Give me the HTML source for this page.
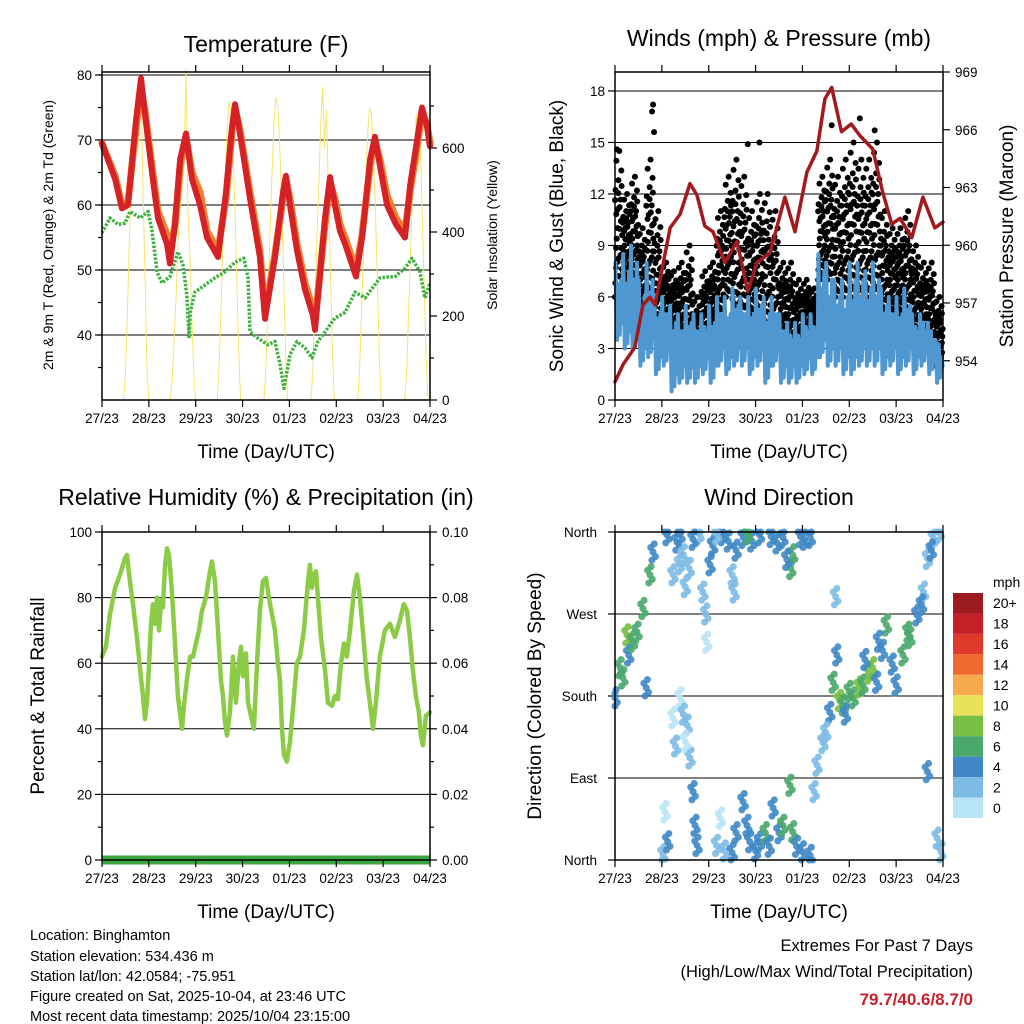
<!DOCTYPE html>
<html><head><meta charset="utf-8"><style>
html,body{margin:0;padding:0;background:#fff;}
svg{display:block;font-family:"Liberation Sans",sans-serif;}
</style></head><body>
<svg id="s" width="1024" height="1024" viewBox="0 0 1024 1024" xmlns="http://www.w3.org/2000/svg">
<g id="static">
<text x="266" y="52" font-size="23" text-anchor="middle">Temperature (F)</text>
<text x="779" y="46" font-size="23" text-anchor="middle">Winds (mph) &amp; Pressure (mb)</text>
<text x="266" y="505" font-size="23" text-anchor="middle">Relative Humidity (%) &amp; Precipitation (in)</text>
<text x="779" y="505" font-size="23" text-anchor="middle">Wind Direction</text>
<text x="266" y="458" font-size="19" text-anchor="middle">Time (Day/UTC)</text>
<text x="779" y="458" font-size="19" text-anchor="middle">Time (Day/UTC)</text>
<text x="266" y="918" font-size="19" text-anchor="middle">Time (Day/UTC)</text>
<text x="779" y="918" font-size="19" text-anchor="middle">Time (Day/UTC)</text>
<text transform="translate(53,235) rotate(-90)" font-size="14" text-anchor="middle">2m &amp; 9m T (Red, Orange) &amp; 2m Td (Green)</text>
<text transform="translate(497,235) rotate(-90)" font-size="14" text-anchor="middle">Solar Insolation (Yellow)</text>
<text transform="translate(563,236) rotate(-90)" font-size="19" text-anchor="middle">Sonic Wind &amp; Gust (Blue, Black)</text>
<text transform="translate(1013,236) rotate(-90)" font-size="19" text-anchor="middle">Station Pressure (Maroon)</text>
<text transform="translate(44,696) rotate(-90)" font-size="19" text-anchor="middle">Percent &amp; Total Rainfall</text>
<text transform="translate(541,696) rotate(-90)" font-size="19" text-anchor="middle">Direction (Colored By Speed)</text>
<g font-size="14.5">
<text x="30" y="940">Location: Binghamton</text>
<text x="30" y="961">Station elevation: 534.436 m</text>
<text x="30" y="981">Station lat/lon: 42.0584; -75.951</text>
<text x="30" y="1001">Figure created on Sat, 2025-10-04, at 23:46 UTC</text>
<text x="30" y="1021">Most recent data timestamp: 2025/10/04 23:15:00</text>
</g>
<text x="973" y="951" font-size="16.5" text-anchor="end">Extremes For Past 7 Days</text>
<text x="973" y="977" font-size="16.5" text-anchor="end">(High/Low/Max Wind/Total Precipitation)</text>
<text x="973" y="1005" font-size="17" font-weight="bold" fill="#c8202a" text-anchor="end">79.7/40.6/8.7/0</text>
<text x="993" y="587" font-size="14">mph</text>
</g>
</svg>
<script>
// ---------- data ----------
const dayLabels=["27/23","28/23","29/23","30/23","01/23","02/23","03/23","04/23"];
const tempTicks=[40,50,60,70,80];
const solarTicks=[0,200,400,600];
const windTicks=[0,3,6,9,12,15,18];
const presTicks=[954,957,960,963,966,969];
const rhTicks=[0,20,40,60,80,100];
const rainTicks=["0.00","0.02","0.04","0.06","0.08","0.10"];
const dirTicks=["North","East","South","West","North"];
const dirTickVals=[0,90,180,270,360];

const tempHours=[0,6.7,10.2,13.3,17.4,20,22,25.6,28.7,33.3,34.8,37.4,40,43,46.1,50.2,53.8,59.4,63.5,66.6,68.1,70.7,75.8,80.9,83.5,88.6,92.7,94.2,96.3,99.9,104,108,109.1,114.2,116.8,119.3,121.9,124.5,130.1,133.2,137.3,139.8,142.4,146,150.6,155.2,157.8,161.9,163.9,166.5,168];
const tempRed=[69.5,64,59.5,60,73,79.5,74,65,58,54,51,57,67,71,64,60,55,52,62,72,75.5,71,61,52,42.5,52,62,64.5,60,53,47,43,40.8,58,64.3,60,56,54,49,55,67,70.5,66,60,57,55,63,71,75,72,69];
const tempOrange=[69.5,64.5,60,60.5,72,78,74.5,66,59,55.5,52.5,57,66,70.5,65,62,56,53,61,71,75,71.5,62,53,43.5,52.5,61,64,61,54,48,44,42,57,63.5,61,57,55,50,55.5,66,70,67,61.5,58,56,62,70,74,72.5,69.5];
const dewHours=[0,4.1,8.2,11.8,14.3,19.5,23.6,25.6,28.2,30.7,34.8,38.9,41.5,43.5,44.6,45.1,47.6,52.8,57.9,63,68.1,72.7,74.8,75.8,79.9,85,88.6,91.2,93.2,96.3,99.9,104,107.6,110.6,114.2,119.3,124.5,129.6,134.7,142.4,150.1,155.2,158.8,162.9,165.4,168];
const dewValues=[55.7,58,57,57.2,59,58,59,56,49.7,48,49,52.8,50.8,46,39.5,43.5,46.6,47.7,48.8,49.7,51.2,51.8,48.8,40.5,39.5,38.5,39,35.4,31.8,37,39,38,36.5,39,40.5,42.6,43.5,46.6,45.7,48.8,49,50.3,51.8,49.7,45.7,48];
const solarHours=[11,12,13,14,15,16,17,18,19,20,21,22,23,24,35,36,37,38,39,40,41,42,43,44,45,46,47,48,59,60,61,62,63,64,65,66,67,68,69,70,71,72,83,84,85,86,87,88,89,90,91,92,93,94,95,96,107,108,109,110,111,112,113,114,115,116,117,118,119,120,131,132,133,134,135,136,137,138,139,140,141,142,143,144,155,156,157,158,159,160,161,162,163,164,165,166,167,168];
const solarValues=[0,60,200,380,520,650,700,740,600,760,500,300,80,0, 0,50,150,250,380,450,500,560,786,450,350,200,60,0, 0,80,220,380,520,640,710,690,600,470,300,120,0,0, 0,80,230,390,530,650,720,700,610,470,300,120,0,0, 0,70,230,380,500,660,745,600,690,480,310,120,0,0, 0,80,220,370,510,630,695,680,590,460,290,110,0,0, 0,60,200,350,480,600,680,560,620,440,280,100,0,0];

const rhHours=[0,2,4.1,6.7,9.2,11.8,12.8,14.3,15.9,17.9,19.5,21,22,23,24.1,25.1,26.1,27.1,28.2,29.2,30.2,31.2,32.3,33.3,34.3,35.8,37.4,38.9,39.9,41,42,43.5,45.1,46.6,48.1,49.7,51.2,53.2,55.3,56.3,57.9,59.4,60.9,62,63,64,65.5,67.1,68.6,70.1,71.2,72.2,73.7,74.8,76.3,77.8,79.4,80.9,82.4,84,85.5,87,88.6,90.1,91.1,92.2,93.2,94.7,96.3,97.8,99.8,101.4,103.4,105.5,106.5,107.5,108.5,109.6,110.6,112.1,114.2,115.7,117.8,119.3,120.8,122.4,123.9,125.4,127,129,130.6,132.1,133.6,135.7,137.2,138.8,140.3,142.3,144.9,147.5,150,152.6,154.6,156.2,157.7,159.2,160.8,162.3,163.3,164.4,165.9,168];
const rhValues=[62,65,75,83,87,92,93,85,78,68,58,50,43,48,60,72,78,72,80,70,79,77,90,95,93,82,66,50,45,40,47,55,62,62,66,70,76,80,88,91,85,70,55,50,42,38,45,62,48,60,65,56,63,48,44,40,60,76,85,86,80,75,70,60,55,40,32,30,36,46,60,62,70,85,90,83,87,88,80,68,58,48,47,50,49,60,66,62,70,82,87,80,70,55,48,40,48,62,70,72,68,73,78,76,68,58,50,45,38,35,44,45];
const rainValues=[0,0];

const windBinHours=4;
const blueLo=[3.5,3,3,2,2.5,1.5,2,0.5,1,1,1,1.5,1,2,1.5,2,2,1.5,2,1,2,1,1,1,1.5,1.5,2.5,2,2,1.5,1.5,2,2,2,1.5,2,1.5,2,1.5,2,1.5,1];
const blueHi=[8,8.5,9,7,8,6,6,5.5,5,5.5,5,5,5.5,6,6,6.5,6,6,6.5,6,6,5,4.5,4.5,5,5,8.5,8,7,7,8,8,7.5,8,6.5,6,6,6.5,5,5,4.5,3.5];
const gustLo=[6,7,7,5,6,4,4,3.5,3.5,3,2,3,4,5,6,5,5,5,5,4,3.5,3.5,3,3,3.5,3.5,7,7,6,6,6,6,6,6,5,5,5,5,4,3.5,3,2];
const gustHi=[14.5,12,13,10,14,11,8,7.5,8,9,6,7.5,8,11,13,14,13,11,12,12,11,8,8,7,7,6.5,13,14,13,14,15,14,14,15,11,10,10,11,9,8,8,6];
const gustPeakHours=[1,19,19.5,20,68,74,111,125.4,133];
const gustPeakValues=[14.6,16.8,17.2,15.6,14.9,15,16,16.4,15.7];
const presHours=[0,4.1,10.2,14.3,17.9,20.5,24.6,28.2,33.3,38.4,42,46,50.2,56.3,62.5,68,72.7,79.4,87,92.2,98.3,103.4,107.5,111,116,121,125.4,132,137,141.8,146,152,157.7,163.8,168];
const presValues=[952.9,953.8,954.7,956.9,957.3,956.9,959,960.9,961.6,963.2,962.6,961,960.7,959.1,960.2,957.6,959.1,959.6,962.5,960.7,963.8,964.9,967.6,968.2,965.9,966.3,965.7,965,962.8,961.1,961.4,960.4,962.5,960.9,961.2];

const dirHours=[0,2.6,6.1,11.3,14.3,17.9,19.5,26.6,31.7,33.3,4,7,9,16,
29.7,36,38,45,47,46.5,48.7,55,60,61,62,65.6,70,74,80,86,91,95,100,50,52,43,40,58,68,83,97,90,88,33,35,
29.7,33.3,35,37,38.4,40,41,42,36,31,
24.6,25.6,27,52,54,56,65.6,67.6,69,72,74,77,79,81,84,86,89.6,91,93,96,100,62,60,
102,103.5,106.5,110,111.7,113.6,113,115,117,120,122,125,127,130,132,134,137,139,142,144,147.5,151,154.6,158,160,163,166,165,167,160,108,118,128,135,150,157,162];
const dirValues=[178,211,247,250,276,313,338,357,349,357,200,225,240,189,
313,300,320,294,239,270,324,357,313,294,340,354,350,357,355,354,335,355,354,345,358,358,352,350,358,348,352,320,330,325,335,
156,178,160,148,112,75,38,16,130,125,
6,53,20,16,46,10,64,38,20,10,20,30,15,57,30,38,82,31,15,9,5,30,8,
75,104,129,162,195,225,289,175,170,185,178,190,192,205,211,195,230,258,215,192,225,244,269,294,331,353,360,24,9,97,140,160,220,240,250,280,340];
const dirSpeeds=[4,6,8,6,6,6,4,4,4,4,6,4,6,4,
2,2,2,2,0,2,4,4,2,2,4,4,4,4,4,4,6,4,4,4,2,2,4,4,6,4,4,6,4,2,2,
0,0,2,2,2,4,4,4,0,2,
2,0,4,2,0,2,4,4,4,4,4,6,4,4,4,6,6,6,4,4,4,4,4,
2,2,2,4,6,4,2,8,6,6,6,8,6,8,8,4,4,6,4,4,6,6,4,2,2,2,2,2,2,4,2,4,4,4,6,4,4];
const cbLabels=["20+","18","16","14","12","10","8","6","4","2","0"];
const cbColors=["#9b1b1e","#c3202a","#df3a2b","#ee6a2e","#f7a94e","#e8e25b","#77c043","#4aa86b","#3f88c5","#7dbbe5","#b9e4f6"];

// ---------- helpers ----------
const NS="http://www.w3.org/2000/svg";
const svg=document.getElementById('s');
function el(tag,attrs,parent){const e=document.createElementNS(NS,tag);for(const k in attrs)e.setAttribute(k,attrs[k]);(parent||svg).appendChild(e);return e;}
const W=328,H=328;
const panels={temp:{x:102,y:72},wind:{x:615,y:72},rh:{x:102,y:532},dir:{x:615,y:532}};
function xs(p,h){return p.x+h/168*W;}
const yTemp=v=>400-(v-30)*6.5;
const ySolar=v=>400-v*0.42;
const yWind=v=>400-v*17.17;
const yPres=v=>72+(969-v)*19.25;
const yRH=v=>860-v*3.28;
const yDir=v=>860-v/360*328;
function spdColor(s){const i=Math.min(10,Math.floor(s/2));return cbColors[10-i];}

function frame(p,name){
  const g=el('g',{});
  
  
  el('rect',{x:p.x,y:p.y,width:W,height:H,fill:'none',stroke:'#000','stroke-width':1.5},g);
  for(let d=0;d<=7;d++){const x=p.x+d*W/7;
    el('line',{x1:x,y1:p.y+H,x2:x,y2:p.y+H+7,stroke:'#000','stroke-width':1.2},g);
    el('line',{x1:x,y1:p.y,x2:x,y2:p.y-7,stroke:'#000','stroke-width':1.2},g);
    const t=el('text',{x:x,y:p.y+H+23,'font-size':13.5,'text-anchor':'middle'},g);
    
    
    t.textContent=dayLabels[d];}
}
function hgrid(p,ys){for(const y of ys){const l=el('line',{x1:p.x,y1:y,x2:p.x+W,y2:y,stroke:'#000','stroke-width':1});
  
  }}
function ylab(x,y,txt,anchor,name){const t=el('text',{x:x,y:y+5,'font-size':13.5,'text-anchor':anchor});
  
  
  t.textContent=txt;
  return t;}
function tick(x,y,len){el('line',{x1:x,y1:y,x2:x+len,y2:y,stroke:'#000','stroke-width':1.2});}
function poly(pts,attrs,name){const e=el('polyline',Object.assign({points:pts.map(p=>p[0].toFixed(1)+','+p[1].toFixed(1)).join(' '),fill:'none','stroke-linejoin':'round','stroke-linecap':'round'},attrs));
  
  
  return e;}

// ---------- temperature ----------
(function(){const p=panels.temp;
  hgrid(p,tempTicks.map(yTemp));
  for(const v of tempTicks){tick(p.x,yTemp(v),-7);ylab(p.x-10,yTemp(v),v,'end','temp-tick-label');}
  for(let v=35;v<=80;v+=5)tick(p.x,yTemp(v),-4);
  for(const v of solarTicks){tick(p.x+W,ySolar(v),7);ylab(p.x+W+12,ySolar(v),v,'start','solar-tick-label');}
  for(let v=100;v<=700;v+=200)tick(p.x+W,ySolar(v),4);
  poly(solarHours.map((h,i)=>[xs(p,h),ySolar(solarValues[i])]),{stroke:'#f7e36a','stroke-width':1},'solar-line');
  poly(dewHours.map((h,i)=>[xs(p,h),yTemp(dewValues[i])]),{stroke:'#40b040','stroke-width':3.5,'stroke-dasharray':'2.5 1.5','stroke-linecap':'butt'},'dewpoint-line');
  poly(tempHours.map((h,i)=>[xs(p,h),yTemp(tempOrange[i])]),{stroke:'#f08030','stroke-width':7},'temp-9m-line');
  poly(tempHours.map((h,i)=>[xs(p,h),yTemp(tempRed[i])]),{stroke:'#d42226','stroke-width':6},'temp-2m-line');
  frame(p,'temperature');
})();

// ---------- winds ----------
(function(){const p=panels.wind;
  hgrid(p,windTicks.map(yWind));
  for(const v of windTicks){tick(p.x,yWind(v),-7);ylab(p.x-10,yWind(v),v,'end','wind-tick-label');}
  for(const v of presTicks){tick(p.x+W,yPres(v),7);ylab(p.x+W+12,yPres(v),v,'start','pressure-tick-label');}
  const bw=W/168*windBinHours;
  const g=el('g',{});
  
  
  for(let i=0;i<gustLo.length;i++){const x0=xs(p,i*windBinHours);
    for(let k=0;k<16;k++){const f=k/15;const v=gustLo[i]+f*(gustHi[i]-gustLo[i]);
      el('circle',{cx:x0+((k*0.37)%1)*bw,cy:yWind(v),r:3,fill:'#000'},g);
      el('circle',{cx:x0+((k*0.71+0.2)%1)*bw,cy:yWind(gustLo[i]+((k*0.53)%1)*(gustHi[i]-gustLo[i])*0.8),r:3,fill:'#000'},g);}}
  for(let i=0;i<gustPeakHours.length;i++)el('circle',{cx:xs(p,gustPeakHours[i]),cy:yWind(gustPeakValues[i]),r:3,fill:'#000'},g);
  const pts=[];
  for(let i=0;i<blueLo.length;i++){const x0=xs(p,i*windBinHours);
    pts.push([x0+bw*0.05,yWind(blueHi[i])],[x0+bw*0.25,yWind(blueLo[i])],[x0+bw*0.45,yWind((blueHi[i]+blueLo[i])/2+1)],[x0+bw*0.6,yWind(blueLo[i]+0.3)],[x0+bw*0.8,yWind(blueHi[i]-1)],[x0+bw*0.95,yWind(blueLo[i]+1)]);}
  poly(pts,{stroke:'#4f97d1','stroke-width':4},'sonic-wind-line');
  poly(presHours.map((h,i)=>[xs(p,h),yPres(presValues[i])]),{stroke:'#a31a1e','stroke-width':3.5},'pressure-line');
  frame(p,'winds');
})();

// ---------- RH ----------
(function(){const p=panels.rh;
  hgrid(p,rhTicks.map(yRH));
  rhTicks.forEach((v,i)=>{tick(p.x,yRH(v),-7);ylab(p.x-10,yRH(v),v,'end','rh-tick-label');
    tick(p.x+W,yRH(v),7);ylab(p.x+W+12,yRH(v),rainTicks[i],'start','rain-tick-label');});
  for(let v=10;v<=90;v+=20){tick(p.x,yRH(v),-4);tick(p.x+W,yRH(v),4);}
  poly(rhHours.slice(0,rhValues.length).map((h,i)=>[xs(p,h),yRH(rhValues[i])]),{stroke:'#8ccb45','stroke-width':4.5},'rh-line');
  poly([[xs(p,0),yRH(rainValues[0]*1000)],[xs(p,168),yRH(rainValues[1]*1000)]],{stroke:'#3ea53e','stroke-width':9,'stroke-linecap':'butt'},'rain-line');
  frame(p,'rh');
})();

// ---------- wind direction ----------
(function(){const p=panels.dir;
  hgrid(p,dirTickVals.map(yDir));
  dirTickVals.forEach((v,i)=>{tick(p.x,yDir(v),-7);ylab(p.x-18,yDir(v),dirTicks[i],'end','direction-tick-label');});
  const g=el('g',{});
  
  
  const offs=[[0,0],[-1.2,5],[1.2,-5],[0.6,9],[-0.6,-9]];
  for(let i=0;i<dirHours.length;i++){
    for(const o of offs){
      const d=Math.max(0,Math.min(360,dirValues[i]+o[1]));
      const h=Math.max(0,Math.min(168,dirHours[i]+o[0]));
      const c=el('circle',{cx:xs(p,h),cy:yDir(d),r:3.5,fill:spdColor(dirSpeeds[i]),opacity:0.9},g);
      
      }}
  frame(p,'direction');
  const cb=el('g',{});
  
  
  const bh=225/11;
  cbColors.forEach((c,i)=>{el('rect',{x:953,y:593+i*bh,width:30,height:bh,fill:c},cb);
    const t=el('text',{x:993,y:593+i*bh+bh/2+5,'font-size':14},cb);
    
    
    t.textContent=cbLabels[i];});
})();
</script>
</body></html>
